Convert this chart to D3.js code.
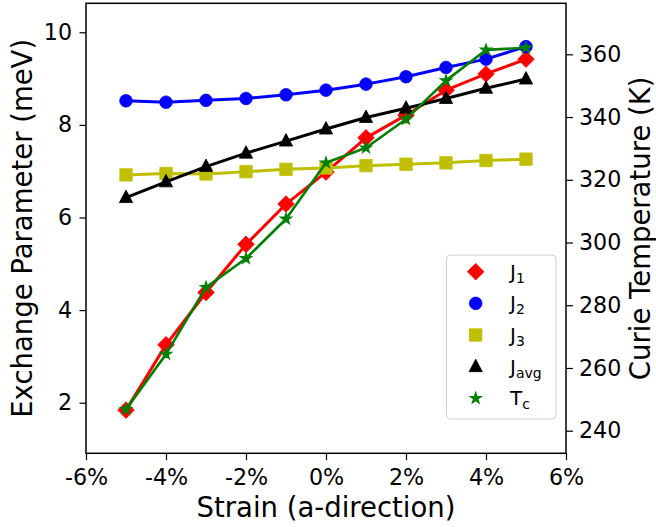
<!DOCTYPE html>
<html>
<head>
<meta charset="utf-8">
<style>
  body { margin: 0; background: #fff; }
  svg { font-family: 'DejaVu Sans', sans-serif; }
</style>
</head>
<body>
<svg width="656" height="527"></svg>
<script src="https://d3js.org/d3.v7.min.js"></script>
<script>
const strain = [-5, -4, -3, -2, -1, 0, 1, 2, 3, 4, 5];
const j1 = [1.84, 3.25, 4.38, 5.42, 6.29, 6.98, 7.72, 8.21, 8.75, 9.10, 9.42];
const j2 = [8.52, 8.49, 8.53, 8.57, 8.65, 8.75, 8.88, 9.04, 9.24, 9.42, 9.69];
const j3 = [6.92, 6.95, 6.94, 6.99, 7.04, 7.07, 7.12, 7.15, 7.18, 7.23, 7.26];
const javg = [6.43, 6.77, 7.10, 7.39, 7.65, 7.91, 8.16, 8.36, 8.57, 8.79, 8.99];
const tc = [246.8, 264.4, 285.7, 294.9, 307.5, 325.4, 330.2, 339.3, 351.6, 361.4, 362.1];

const xTicks = [-6, -4, -2, 0, 2, 4, 6];
const yLeftTicks = [2, 4, 6, 8, 10];
const yRightTicks = [240, 260, 280, 300, 320, 340, 360];

const svg = d3.select("svg");
const pl = 86, pr = 566, pt = 3.3, pb = 453.3;

const x = d3.scaleLinear().domain([-6, 6]).range([pl, pr]);
const yL = d3.scaleLinear().domain([0.907, 10.626]).range([pb, pt]);
const yR = d3.scaleLinear().domain([232.8, 376.26]).range([pb, pt]);

// symbols, sized to look like the matplotlib markers
const diamond = s => `M0,${-s}L${s},0L0,${s}L${-s},0Z`;
const shapes = {
  diamond: diamond(8.3),
  circle: d3.symbol(d3.symbolCircle, Math.PI * 6.3 * 6.3)(),
  square: d3.symbol(d3.symbolSquare, 12.4 * 12.4)(),
  triangle: "M0,-7.5L6.6,5L-6.6,5Z",
  star: d3.symbol(d3.symbolStar, 32)()
};

const series = [
  { name: "J", sub: "1", values: j1, color: "#ff0000", shape: "diamond", y: yL, width: 3 },
  { name: "J", sub: "2", values: j2, color: "#0000ff", shape: "circle", y: yL, width: 3 },
  { name: "J", sub: "3", values: j3, color: "#bfbf00", shape: "square", y: yL, width: 3 },
  { name: "J", sub: "avg", values: javg, color: "#000000", shape: "triangle", y: yL, width: 3 },
  { name: "T", sub: "c", values: tc, color: "#008000", shape: "star", y: yR, width: 2.6 }
];

const plot = svg.append("g");
series.forEach(s => {
  const pts = strain.map((d, i) => [d, s.values[i]]);
  const line = d3.line().x(d => x(d[0])).y(d => s.y(d[1]));
  plot.append("path")
    .attr("d", line(pts))
    .attr("fill", "none")
    .attr("stroke", s.color)
    .attr("stroke-width", s.width)
    .attr("stroke-linejoin", "round");
  plot.selectAll(null)
    .data(pts)
    .join("path")
    .attr("d", shapes[s.shape])
    .attr("transform", d => `translate(${x(d[0])},${s.y(d[1])})`)
    .attr("fill", s.color)
    .attr("stroke", s.color)
    .attr("stroke-width", s.shape == "star" ? 1.5 : 0.8);
});

// axes
const xAxis = d3.axisBottom(x).tickValues(xTicks).tickFormat(d => d + "%").tickSize(7).tickPadding(8.5);
const yAxisL = d3.axisLeft(yL).tickValues(yLeftTicks).tickSize(6.5).tickPadding(7.5);
const yAxisR = d3.axisRight(yR).tickValues(yRightTicks).tickSize(7).tickPadding(6);

function styleAxis(g) {
  g.selectAll(".domain").remove();
  g.selectAll("line").attr("stroke", "#000").attr("stroke-width", 1.2);
  g.selectAll("text").attr("font-size", 22.2).attr("fill", "#000")
    .attr("font-family", "'DejaVu Sans', sans-serif");
}
svg.append("g").attr("transform", `translate(0,${pb})`).call(xAxis).call(styleAxis);
svg.append("g").attr("transform", `translate(${pl},0)`).call(yAxisL).call(styleAxis);
svg.append("g").attr("transform", `translate(${pr},0)`).call(yAxisR).call(styleAxis);

svg.append("rect")
  .attr("x", pl).attr("y", pt)
  .attr("width", pr - pl).attr("height", pb - pt)
  .attr("fill", "none").attr("stroke", "#000").attr("stroke-width", 1.5);

// axis labels
svg.append("text")
  .attr("x", (pl + pr) / 2).attr("y", 516.7)
  .attr("text-anchor", "middle").attr("font-size", 27.5)
  .text("Strain (a-direction)");
svg.append("text")
  .attr("transform", `translate(31.5,${(pt + pb) / 2}) rotate(-90)`)
  .attr("text-anchor", "middle").attr("font-size", 27.5)
  .text("Exchange Parameter (meV)");
svg.append("text")
  .attr("transform", `translate(649.5,${(pt + pb) / 2}) rotate(-90)`)
  .attr("text-anchor", "middle").attr("font-size", 27.5)
  .text("Curie Temperature (K)");

// legend
const lg = svg.append("g");
lg.append("rect")
  .attr("x", 446.5).attr("y", 255).attr("width", 109.5).attr("height", 164)
  .attr("rx", 4).attr("fill", "#fff").attr("fill-opacity", 0.8)
  .attr("stroke", "#d0d0d0").attr("stroke-width", 1);
series.forEach((s, i) => {
  const yy = 271.7 + i * 31.65;
  lg.append("path")
    .attr("d", shapes[s.shape])
    .attr("transform", `translate(475.7,${yy})`)
    .attr("fill", s.color).attr("stroke", s.color)
    .attr("stroke-width", s.shape == "star" ? 1.5 : 0.8);
  const t = lg.append("text")
    .attr("x", 510).attr("y", yy + 7)
    .attr("font-size", 20);
  t.append("tspan").text(s.name);
  t.append("tspan").attr("font-size", 14).attr("dy", 4).text(s.sub);
});
</script>
</body>
</html>
